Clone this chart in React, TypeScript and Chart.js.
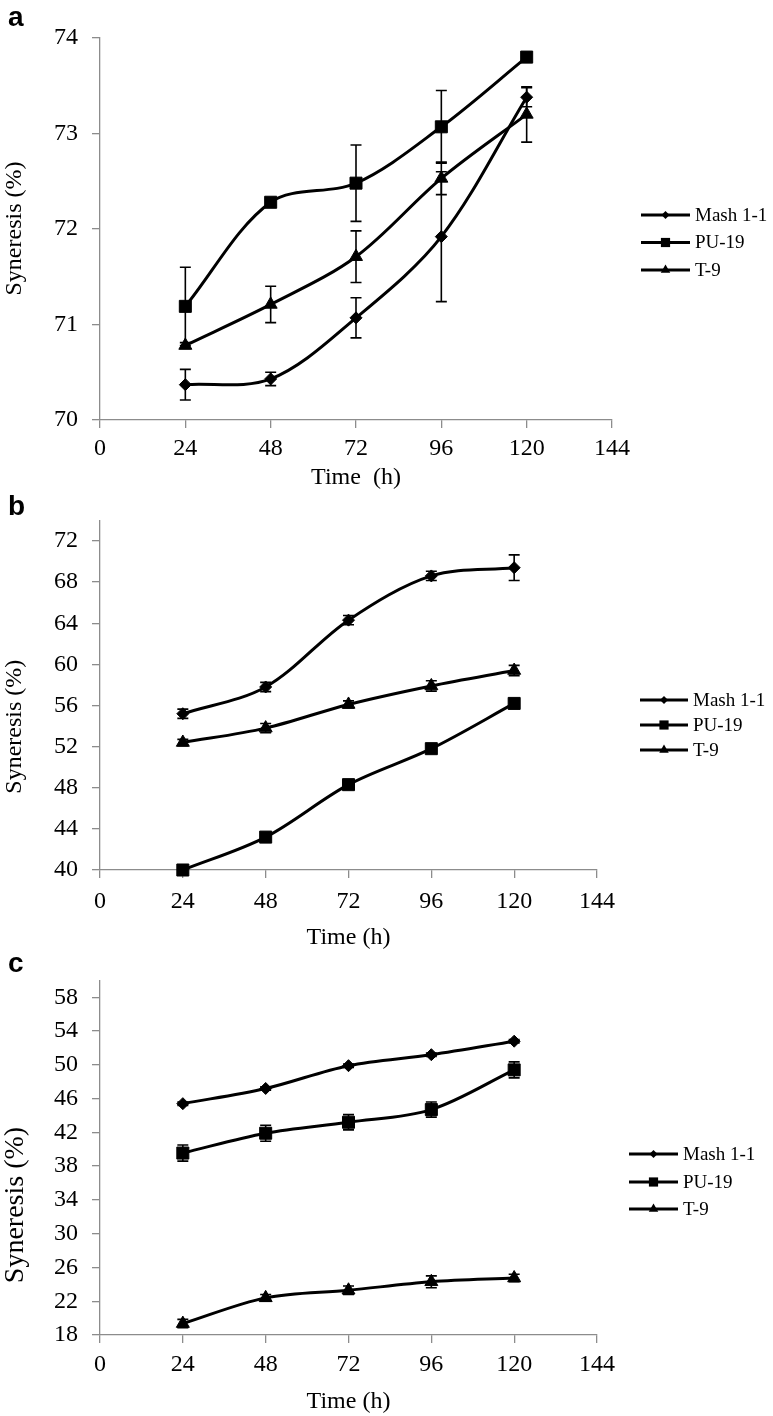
import React, { useEffect, useRef } from 'react';
import { Chart, registerables } from 'chart.js';

Chart.register(...registerables);

// ---------- data ----------
const hours = [24, 48, 72, 96, 120];
const xTicks = [0, 24, 48, 72, 96, 120, 144];
const seriesNames = ['Mash 1-1', 'PU-19', 'T-9'];
const seriesStyles = ['rectRot', 'rect', 'triangle'];

// panel a
const mashA = [70.37, 70.43, 71.07, 71.92, 73.38];
const mashAErr = [0.16, 0.07, 0.21, 0.68, 0.1];
const puA = [71.19, 72.28, 72.48, 73.07, 73.8];
const puAErr = [0.41, 0.03, 0.4, 0.38, 0.05];
const t9A = [70.78, 71.21, 71.71, 72.53, 73.2];
const t9AErr = [0.03, 0.19, 0.27, 0.17, 0.29];
const yTicksA = [70, 71, 72, 73, 74];

// panel b
const mashB = [55.2, 57.8, 64.3, 68.6, 69.4];
const mashBErr = [0.45, 0.45, 0.45, 0.45, 1.25];
const puB = [40.0, 43.2, 48.3, 51.8, 56.2];
const puBErr = [0.3, 0.3, 0.3, 0.3, 0.3];
const t9B = [52.4, 53.8, 56.1, 57.9, 59.4];
const t9BErr = [0.3, 0.45, 0.35, 0.5, 0.5];
const yTicksB = [40, 44, 48, 52, 56, 60, 64, 68, 72];

// panel c
const mashC = [45.4, 47.2, 49.9, 51.2, 52.8];
const mashCErr = [0.2, 0.2, 0.2, 0.2, 0.2];
const puC = [39.55, 41.9, 43.2, 44.7, 49.4];
const puCErr = [0.95, 0.95, 0.9, 0.9, 0.95];
const t9C = [19.35, 22.4, 23.3, 24.3, 24.75];
const t9CErr = [0.5, 0.4, 0.5, 0.7, 0.45];
const yTicksC = [18, 22, 26, 30, 34, 38, 42, 46, 50, 54, 58];

// ---------- styling ----------
const SERIF = "'Liberation Serif', 'Times New Roman', Times, serif";
const SANS = "'Liberation Sans', Arial, Helvetica, sans-serif";
const GRAY = '#8c8c8c';

type Spec = {
  letter: string;
  top: number;
  height: number;
  values: number[][];
  errors: number[][];
  yTicks: number[];
  yMin: number;
  yMax: number;
  padTop: number;
  padRight: number;
  xAxisHeight: number;
  xTickPad: number;
  xTitle: string;
  yTitle: { x: number; y: number; size: number };
  letterPos: { x: number; y: number };
  legend: { x0: number; x1: number; tx: number; ys: number[] };
};

const panels: Spec[] = [
  {
    letter: 'a', top: 0, height: 492,
    values: [mashA, puA, t9A], errors: [mashAErr, puAErr, t9AErr],
    yTicks: yTicksA, yMin: 70, yMax: 74,
    padTop: 38, padRight: 161, xAxisHeight: 72, xTickPad: 6,
    xTitle: 'Time  (h)',
    yTitle: { x: 15, y: 228.5, size: 24 },
    letterPos: { x: 8, y: 26 },
    legend: { x0: 641, x1: 690, tx: 695, ys: [215, 242.5, 270] },
  },
  {
    letter: 'b', top: 492, height: 460,
    values: [mashB, puB, t9B], errors: [mashBErr, puBErr, t9BErr],
    yTicks: yTicksB, yMin: 40, yMax: 74,
    padTop: 24, padRight: 176, xAxisHeight: 82, xTickPad: 9,
    xTitle: 'Time (h)',
    yTitle: { x: 15, y: 234.7, size: 24 },
    letterPos: { x: 8, y: 23 },
    legend: { x0: 640, x1: 688, tx: 693, ys: [208, 233, 258] },
  },
  {
    letter: 'c', top: 952, height: 464,
    values: [mashC, puC, t9C], errors: [mashCErr, puCErr, t9CErr],
    yTicks: yTicksC, yMin: 18, yMax: 60,
    padTop: 20, padRight: 176, xAxisHeight: 81, xTickPad: 7.5,
    xTitle: 'Time (h)',
    yTitle: { x: 16, y: 253, size: 28 },
    letterPos: { x: 8, y: 20 },
    legend: { x0: 629, x1: 678, tx: 683, ys: [202, 230, 257] },
  },
];

const pointRadius: Record<string, number> = { rectRot: 6, rect: 8.5, triangle: 7.5 };
const legendRadius: Record<string, number> = { rectRot: 4, rect: 6.5, triangle: 5.5 };

function drawMarker(ctx: CanvasRenderingContext2D, style: string, x: number, y: number, r: number) {
  ctx.beginPath();
  if (style === 'rectRot') {
    ctx.moveTo(x, y - r);
    ctx.lineTo(x + r, y);
    ctx.lineTo(x, y + r);
    ctx.lineTo(x - r, y);
  } else if (style === 'rect') {
    const s = r * Math.SQRT1_2;
    ctx.rect(x - s, y - s, 2 * s, 2 * s);
  } else {
    ctx.moveTo(x, y - r);
    ctx.lineTo(x + r * Math.sin(Math.PI / 3), y + r * 0.5);
    ctx.lineTo(x - r * Math.sin(Math.PI / 3), y + r * 0.5);
  }
  ctx.closePath();
  ctx.fill();
}

function makeConfig(spec: Spec): any {
  const datasets = spec.values.map((vals, i) => ({
    label: seriesNames[i],
    data: vals.map((v, j) => ({ x: hours[j], y: v })),
    errors: spec.errors[i],
    borderColor: '#000',
    backgroundColor: '#000',
    borderWidth: 3,
    tension: 0.33,
    fill: false,
    pointStyle: seriesStyles[i],
    pointRadius: pointRadius[seriesStyles[i]],
    pointHoverRadius: pointRadius[seriesStyles[i]],
    pointBackgroundColor: '#000',
    pointBorderColor: '#000',
    pointBorderWidth: 1,
    clip: false,
  }));

  const overlay = {
    id: 'overlay' + spec.letter,
    afterDatasetsDraw(chart: any) {
      const { ctx, scales } = chart;
      const xs = scales.x;
      const ys = scales.y;
      ctx.save();
      ctx.strokeStyle = '#000';
      ctx.lineWidth = 1.6;
      const cap = 5.5;
      chart.data.datasets.forEach((ds: any) => {
        ds.data.forEach((pt: any, j: number) => {
          const e = ds.errors[j];
          const px = xs.getPixelForValue(pt.x);
          const t = ys.getPixelForValue(pt.y + e);
          const b = ys.getPixelForValue(pt.y - e);
          ctx.beginPath();
          ctx.moveTo(px, t);
          ctx.lineTo(px, b);
          ctx.moveTo(px - cap, t);
          ctx.lineTo(px + cap, t);
          ctx.moveTo(px - cap, b);
          ctx.lineTo(px + cap, b);
          ctx.stroke();
        });
      });
      ctx.restore();
    },
    afterDraw(chart: any) {
      const { ctx } = chart;
      ctx.save();
      // legend
      const lg = spec.legend;
      chart.data.datasets.forEach((ds: any, i: number) => {
        const y = lg.ys[i];
        ctx.strokeStyle = '#000';
        ctx.lineWidth = 3;
        ctx.beginPath();
        ctx.moveTo(lg.x0, y);
        ctx.lineTo(lg.x1, y);
        ctx.stroke();
        ctx.fillStyle = '#000';
        drawMarker(ctx, ds.pointStyle, (lg.x0 + lg.x1) / 2, y, legendRadius[ds.pointStyle]);
        ctx.font = `19px ${SERIF}`;
        ctx.textAlign = 'left';
        ctx.textBaseline = 'middle';
        ctx.fillText(ds.label, lg.tx, y + 1);
      });
      // y title
      ctx.save();
      ctx.translate(spec.yTitle.x, spec.yTitle.y);
      ctx.rotate(-Math.PI / 2);
      ctx.font = `${spec.yTitle.size}px ${SERIF}`;
      ctx.textAlign = 'center';
      ctx.textBaseline = 'middle';
      ctx.fillStyle = '#000';
      ctx.fillText('Syneresis (%)', 0, 0);
      ctx.restore();
      // panel letter
      ctx.font = `bold 28px ${SANS}`;
      ctx.textAlign = 'left';
      ctx.textBaseline = 'alphabetic';
      ctx.fillStyle = '#000';
      ctx.fillText(spec.letter, spec.letterPos.x, spec.letterPos.y);
      ctx.restore();
    },
  };

  return {
    type: 'line',
    data: { datasets },
    plugins: [overlay],
    options: {
      responsive: false,
      animation: false,
      devicePixelRatio: 1,
      events: [],
      layout: { padding: { top: spec.padTop, right: spec.padRight, left: 0, bottom: 0 } },
      plugins: { legend: { display: false }, tooltip: { enabled: false }, title: { display: false } },
      scales: {
        x: {
          type: 'linear',
          min: 0,
          max: 144,
          afterBuildTicks: (s: any) => { s.ticks = xTicks.map((v) => ({ value: v })); },
          afterFit: (s: any) => { s.height = spec.xAxisHeight; },
          grid: { display: true, drawOnChartArea: false, drawTicks: true, tickLength: 8, color: GRAY, lineWidth: 1.3 },
          border: { display: true, color: GRAY, width: 1.3 },
          ticks: { autoSkip: false, maxRotation: 0, color: '#000', padding: spec.xTickPad, font: { family: SERIF, size: 24 } },
          title: { display: true, text: spec.xTitle, color: '#000', padding: { top: 0, bottom: 0 }, font: { family: SERIF, size: 24 } },
        },
        y: {
          type: 'linear',
          min: spec.yMin,
          max: spec.yMax,
          afterBuildTicks: (s: any) => { s.ticks = spec.yTicks.map((v) => ({ value: v })); },
          afterFit: (s: any) => { s.width = 100; },
          grid: { display: true, drawOnChartArea: false, drawTicks: true, tickLength: 8, color: GRAY, lineWidth: 1.3 },
          border: { display: true, color: GRAY, width: 1.3 },
          ticks: { autoSkip: false, color: '#000', padding: 14, font: { family: SERIF, size: 24 } },
          title: { display: false },
        },
      },
    },
  };
}

function Panel({ spec }: { spec: Spec }) {
  const ref = useRef<HTMLCanvasElement>(null);
  useEffect(() => {
    if (!ref.current) return;
    const chart = new Chart(ref.current, makeConfig(spec));
    return () => chart.destroy();
  }, [spec]);
  return (
    <canvas
      ref={ref}
      width={773}
      height={spec.height}
      style={{ position: 'absolute', left: 0, top: spec.top, width: 773, height: spec.height, display: 'block' }}
    />
  );
}

export default function App() {
  return (
    <div style={{ position: 'absolute', left: 0, top: 0, width: 773, height: 1416, background: '#fff', overflow: 'hidden' }}>
      {panels.map((p) => (
        <Panel key={p.letter} spec={p} />
      ))}
    </div>
  );
}
